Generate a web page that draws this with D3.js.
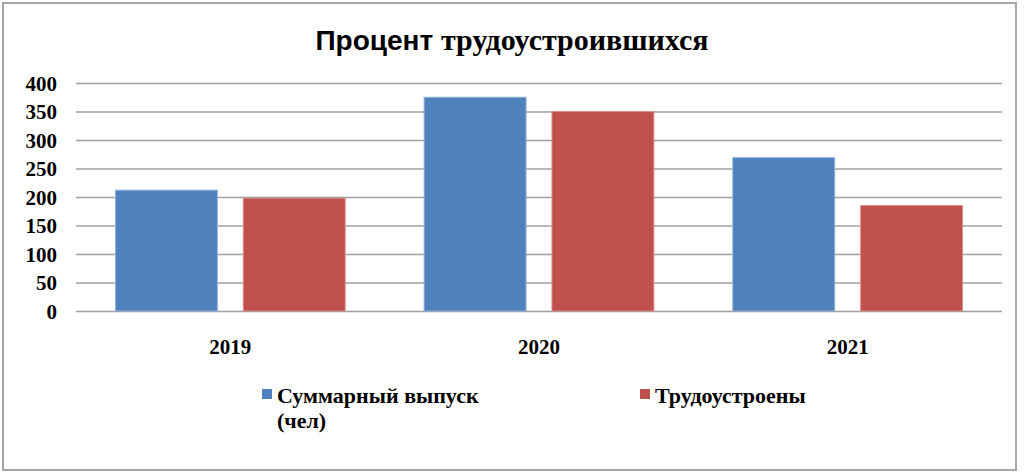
<!DOCTYPE html>
<html><head><meta charset="utf-8">
<script src="https://cdn.jsdelivr.net/npm/d3@7"></script>
<style>html,body{margin:0;padding:0;background:#fff;overflow:hidden}</style>
</head><body>
<svg id="chart" width="1024" height="476"></svg>
<script>
const categories = ["2019", "2020", "2021"];
const seriesNames = ["Суммарный выпуск (чел)", "Трудоустроены"];
const totalGrad = [212, 375, 269];
const employed = [198, 350, 185];
const yTicks = [0, 50, 100, 150, 200, 250, 300, 350, 400];
const colors = ["#4F81BD", "#C0504D"];
const strokes = ["#8FB0DA", "#DB8C8A"];

const SERIF = "'Liberation Serif', 'DejaVu Serif', serif";
const SANS = "'Liberation Sans', Arial, sans-serif";

const svg = d3.select("#chart");
const W = 1024, H = 476;
svg.append("rect").attr("x", 0).attr("y", 0).attr("width", W).attr("height", H).attr("fill", "#fff");
svg.append("rect").attr("x", 3).attr("y", 3).attr("width", 1013).attr("height", 467)
  .attr("fill", "#fff").attr("stroke", "#a6a6a6").attr("stroke-width", 2);

// title
const title = svg.append("text").attr("x", 512).attr("y", 50).attr("text-anchor", "middle");
title.append("tspan").text("Процент ").style("font-family", SANS).style("font-weight", "bold").style("font-size", "28px");
title.append("tspan").text("трудоустроившихся").style("font-family", SERIF).style("font-weight", "bold").style("font-size", "30px");

const plot = {left: 76, right: 1002, top: 83, bottom: 311};
const x = d3.scaleBand().domain(categories).range([plot.left, plot.right]).paddingInner(0).paddingOuter(0);
const y = d3.scaleLinear().domain([0, 400]).range([plot.bottom, plot.top]);
const sub = d3.scaleBand().domain([0, 1]).range([0, x.bandwidth()]).paddingInner(0.195).paddingOuter(0.305);

// grid via axis
const grid = svg.append("g").attr("transform", `translate(${plot.left},0)`)
  .call(d3.axisLeft(y).tickValues(yTicks).tickSize(-(plot.right - plot.left)).tickFormat(""));
grid.select(".domain").remove();
grid.selectAll("line").attr("stroke", "#a0a0a0").attr("stroke-width", 1.3);

// y labels
const yAxis = svg.append("g").attr("transform", `translate(${plot.left},0)`)
  .call(d3.axisLeft(y).tickValues(yTicks).tickSize(0).tickPadding(19));
yAxis.select(".domain").remove();
yAxis.selectAll("text").style("font-family", SERIF).style("font-weight", "bold")
  .style("font-size", "21px").attr("fill", "#000").attr("dy", "0.34em");

// bars
const series = [totalGrad, employed];
series.forEach((vals, si) => {
  svg.append("g").selectAll("rect").data(categories).join("rect")
    .attr("x", c => x(c) + sub(si) + 0.5)
    .attr("y", (c, i) => y(vals[i]))
    .attr("width", sub.bandwidth() - 1)
    .attr("height", (c, i) => y(0) - y(vals[i]))
    .attr("fill", colors[si]).attr("stroke", strokes[si]).attr("stroke-width", 1);
});

// x labels
const xAxis = svg.append("g").attr("transform", `translate(0,${plot.bottom})`)
  .call(d3.axisBottom(x).tickSize(0).tickPadding(28));
xAxis.select(".domain").remove();
xAxis.selectAll("text").style("font-family", SERIF).style("font-weight", "bold")
  .style("font-size", "21px").attr("fill", "#000");

// legend
const leg = [{x: 262, lines: ["Суммарный выпуск", "(чел)"]}, {x: 640, lines: ["Трудоустроены"]}];
leg.forEach((l, i) => {
  svg.append("rect").attr("x", l.x).attr("y", 389).attr("width", 10).attr("height", 10).attr("fill", colors[i]);
  const t = svg.append("text").style("font-family", SERIF).style("font-weight", "bold")
    .style("font-size", "22px").attr("fill", "#000");
  l.lines.forEach((ln, k) => {
    t.append("tspan").attr("x", l.x + 15).attr("y", 403 + k * 25).text(ln);
  });
});
</script>
</body></html>
